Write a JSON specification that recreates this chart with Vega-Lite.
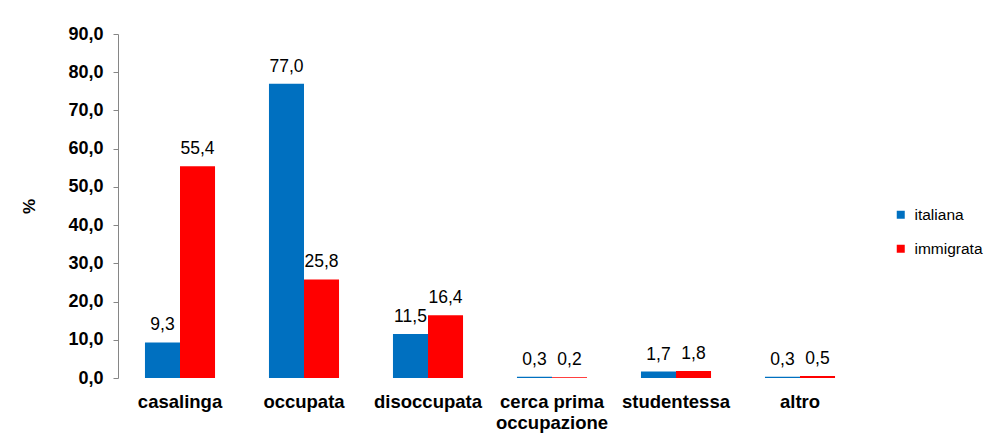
{
  "$schema": "https://vega.github.io/schema/vega-lite/v6.json",
  "width": 744,
  "height": 344,
  "autosize": {"type": "none"},
  "padding": {"left": 118, "top": 34, "right": 132, "bottom": 63},
  "background": "white",
  "config": {
    "view": {"stroke": null},
    "font": "Liberation Sans",
    "locale": {"number": {"decimal": ",", "thousands": ".", "grouping": [3], "currency": ["€", ""]}}
  },
  "data": {
    "values": [
      {"categoria": "casalinga", "gruppo": "italiana", "valore": 9.3},
      {"categoria": "casalinga", "gruppo": "immigrata", "valore": 55.4},
      {"categoria": "occupata", "gruppo": "italiana", "valore": 77.0},
      {"categoria": "occupata", "gruppo": "immigrata", "valore": 25.8},
      {"categoria": "disoccupata", "gruppo": "italiana", "valore": 11.5},
      {"categoria": "disoccupata", "gruppo": "immigrata", "valore": 16.4},
      {"categoria": "cerca prima occupazione", "gruppo": "italiana", "valore": 0.3},
      {"categoria": "cerca prima occupazione", "gruppo": "immigrata", "valore": 0.2},
      {"categoria": "studentessa", "gruppo": "italiana", "valore": 1.7},
      {"categoria": "studentessa", "gruppo": "immigrata", "valore": 1.8},
      {"categoria": "altro", "gruppo": "italiana", "valore": 0.3},
      {"categoria": "altro", "gruppo": "immigrata", "valore": 0.5}
    ]
  },
  "encoding": {
    "x": {
      "field": "categoria",
      "type": "nominal",
      "sort": null,
      "scale": {"paddingInner": 0.435, "paddingOuter": 0.2175},
      "axis": {
        "title": null,
        "domain": false,
        "ticks": false,
        "labelAngle": 0,
        "labelFont": "Liberation Sans",
        "labelFontSize": 18.5,
        "labelFontWeight": "bold",
        "labelColor": "#000000",
        "labelPadding": 14,
        "labelLineHeight": 21,
        "labelOverlap": false,
        "labelExpr": "datum.label == 'cerca prima occupazione' ? ['cerca prima', 'occupazione'] : datum.label"
      }
    },
    "xOffset": {"field": "gruppo", "type": "nominal", "sort": ["italiana", "immigrata"]},
    "y": {
      "field": "valore",
      "type": "quantitative",
      "scale": {"domain": [0, 90], "nice": false},
      "axis": {
        "title": "%",
        "titleFont": "Liberation Sans",
        "titleFontSize": 17,
        "titleFontWeight": "bold",
        "titleColor": "#000000",
        "titleX": -80,
        "values": [0, 10, 20, 30, 40, 50, 60, 70, 80, 90],
        "tickCount": 10,
        "format": ".1f",
        "grid": false,
        "labelOverlap": false,
        "domainColor": "#868686",
        "tickColor": "#868686",
        "tickSize": 5,
        "labelFont": "Liberation Sans",
        "labelFontSize": 18,
        "labelFontWeight": "bold",
        "labelColor": "#000000",
        "labelPadding": 10
      }
    }
  },
  "layer": [
    {
      "mark": {"type": "bar"},
      "encoding": {
        "color": {
          "field": "gruppo",
          "type": "nominal",
          "sort": ["italiana", "immigrata"],
          "scale": {"domain": ["italiana", "immigrata"], "range": ["#0070C0", "#FF0000"]},
          "legend": {
            "title": null,
            "orient": "none",
            "legendX": 775,
            "legendY": 173,
            "symbolType": "square",
            "symbolSize": 64,
            "symbolStrokeWidth": 0,
            "labelFont": "Liberation Sans",
            "labelFontSize": 15.5,
            "labelColor": "#000000",
            "labelOffset": 6,
            "rowPadding": 17
          }
        }
      }
    },
    {
      "mark": {"type": "text", "baseline": "alphabetic", "dy": -12, "fontSize": 17.5, "font": "Liberation Sans", "color": "#000000"},
      "encoding": {
        "text": {"field": "valore", "type": "quantitative", "format": ".1f"}
      }
    }
  ]
}
